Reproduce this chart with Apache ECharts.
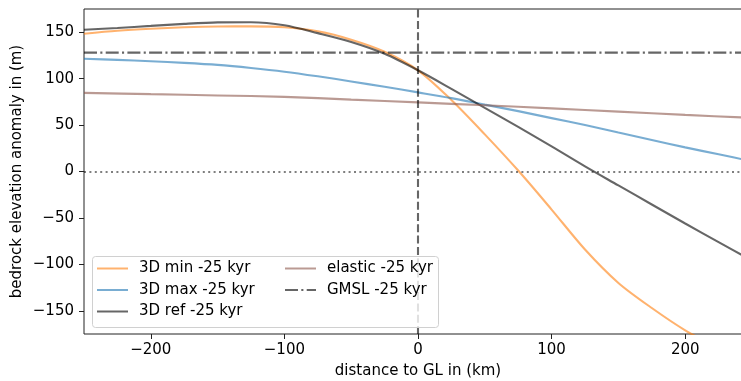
<!DOCTYPE html>
<html>
<head>
<meta charset="utf-8">
<script src="https://cdn.jsdelivr.net/npm/echarts@6/dist/echarts.min.js"></script>
<style>
  html, body { margin: 0; padding: 0; background: #fff; }
  #chart { width: 741px; height: 381px; }
</style>
</head>
<body>
<div id="chart"></div>
<script>
// distance to grounding line (km) for the 3D runs
const distKm = [-250, -225, -200, -175, -150, -125, -100, -75, -50, -25, 0, 25, 50, 75, 100, 125, 150, 175, 200, 225, 250];
const min3d = [148.3, 151.5, 153.7, 155.3, 156.2, 156.3, 155.4, 151, 142, 129, 109, 77, 40, 1, -41, -84, -120, -147, -171, -190, -205];
const max3d = [121.5, 120.2, 118.7, 117, 114.8, 111.5, 107.5, 102.5, 97, 91.2, 85.2, 79, 72, 65, 57.5, 50, 42, 34, 26, 18.5, 11];
const ref3d = [152.6, 154.6, 156.8, 159, 160.6, 160.8, 157.5, 149, 139.5, 126.8, 109, 89, 68.5, 48, 27, 5.5, -15, -35.5, -56, -76, -96];

const elasticKm = [-250, -200, -150, -100, -50, 0, 50, 100, 150, 200, 250];
const elastic = [84.7, 83.3, 81.9, 80.4, 77.4, 74.4, 71.3, 68, 64.5, 61, 57.7];

const gmslKm = [-250, 250];
const gmsl = [128, 128];

const xTicks = [-200, -100, 0, 100, 200];
const yTicks = [-150, -100, -50, 0, 50, 100, 150];

const FONT = 'DejaVu Sans';
const FS = 15;

const pairs = (xs, ys) => xs.map((x, i) => [x, ys[i]]);
const minus = (v) => String(v).replace('-', '\u2212');

const lineSeries = (name, xs, ys, color, type) => ({
  name,
  type: 'line',
  data: pairs(xs, ys),
  symbol: 'none',
  smooth: 0.3,
  clip: true,
  lineStyle: { color, width: 2.1, type: type || 'solid' },
  itemStyle: { color },
  z: 3,
});

const legendBase = {
  orient: 'vertical',
  top: 261,
  padding: 0,
  itemGap: 6.5,
  itemWidth: 31,
  itemHeight: 15,
  z: 10,
  itemStyle: { opacity: 0 },
  textStyle: { fontFamily: FONT, fontSize: FS, color: '#000', padding: [0, 0, 0, 6] },
};

const chart = echarts.init(document.getElementById('chart'));

const option = {
  animation: false,
  textStyle: { fontFamily: FONT },
  grid: {
    left: 84,
    top: 9,
    right: -11,
    bottom: 47,
    outerBoundsMode: 'none',
    containLabel: false,
    show: true,
    borderColor: '#222',
    borderWidth: 1,
  },
  xAxis: {
    type: 'value',
    min: -250,
    max: 250,
    name: 'distance to GL in (km)',
    nameLocation: 'middle',
    nameGap: 30,
    nameMoveOverlap: false,
    nameTextStyle: { fontFamily: FONT, fontSize: FS, color: '#000' },
    axisLine: { show: false, onZero: false },
    axisTick: { show: true, length: 5, lineStyle: { color: '#222' }, customValues: xTicks },
    axisLabel: { fontFamily: FONT, fontSize: FS, color: '#000', margin: 9, customValues: xTicks, formatter: minus },
    splitLine: { show: false },
  },
  yAxis: {
    type: 'value',
    min: -175,
    max: 175,
    name: 'bedrock elevation anomaly in (m)',
    nameLocation: 'middle',
    nameGap: 59,
    nameMoveOverlap: false,
    nameTextStyle: { fontFamily: FONT, fontSize: FS, color: '#000' },
    axisLine: { show: false, onZero: false },
    axisTick: { show: true, length: 5, lineStyle: { color: '#222' }, customValues: yTicks },
    axisLabel: { fontFamily: FONT, fontSize: FS, color: '#000', margin: 10, customValues: yTicks, formatter: minus },
    splitLine: { show: false },
  },
  legend: [
    { ...legendBase, left: 96, data: ['3D min -25 kyr', '3D max -25 kyr', '3D ref -25 kyr'] },
    { ...legendBase, left: 284, data: ['elastic -25 kyr', 'GMSL -25 kyr'] },
  ],
  graphic: [
    {
      type: 'rect',
      left: 92,
      top: 256,
      z: 8,
      shape: { width: 346, height: 71, r: 3 },
      style: { fill: 'rgba(255,255,255,0.8)', stroke: '#d0d0d0', lineWidth: 1 },
    },
  ],
  series: [
    lineSeries('3D min -25 kyr', distKm, min3d, 'rgba(255,127,14,0.6)'),
    lineSeries('3D max -25 kyr', distKm, max3d, 'rgba(31,119,180,0.6)'),
    lineSeries('3D ref -25 kyr', distKm, ref3d, 'rgba(0,0,0,0.6)'),
    lineSeries('elastic -25 kyr', elasticKm, elastic, 'rgba(140,86,75,0.6)'),
    {
      ...lineSeries('GMSL -25 kyr', gmslKm, gmsl, 'rgba(0,0,0,0.6)', [13, 3.3, 2.1, 3.3]),
      smooth: false,
      markLine: {
        silent: true,
        symbol: 'none',
        label: { show: false },
        data: [
          { xAxis: 0, lineStyle: { color: 'rgba(0,0,0,0.6)', width: 2.1, type: [8, 3.3] } },
          { yAxis: 0, lineStyle: { color: 'rgba(0,0,0,0.5)', width: 2.1, type: [2, 3.4] } },
        ],
      },
    },
  ],
};

chart.setOption(option);
window.addEventListener('resize', () => chart.resize());
</script>
</body>
</html>
